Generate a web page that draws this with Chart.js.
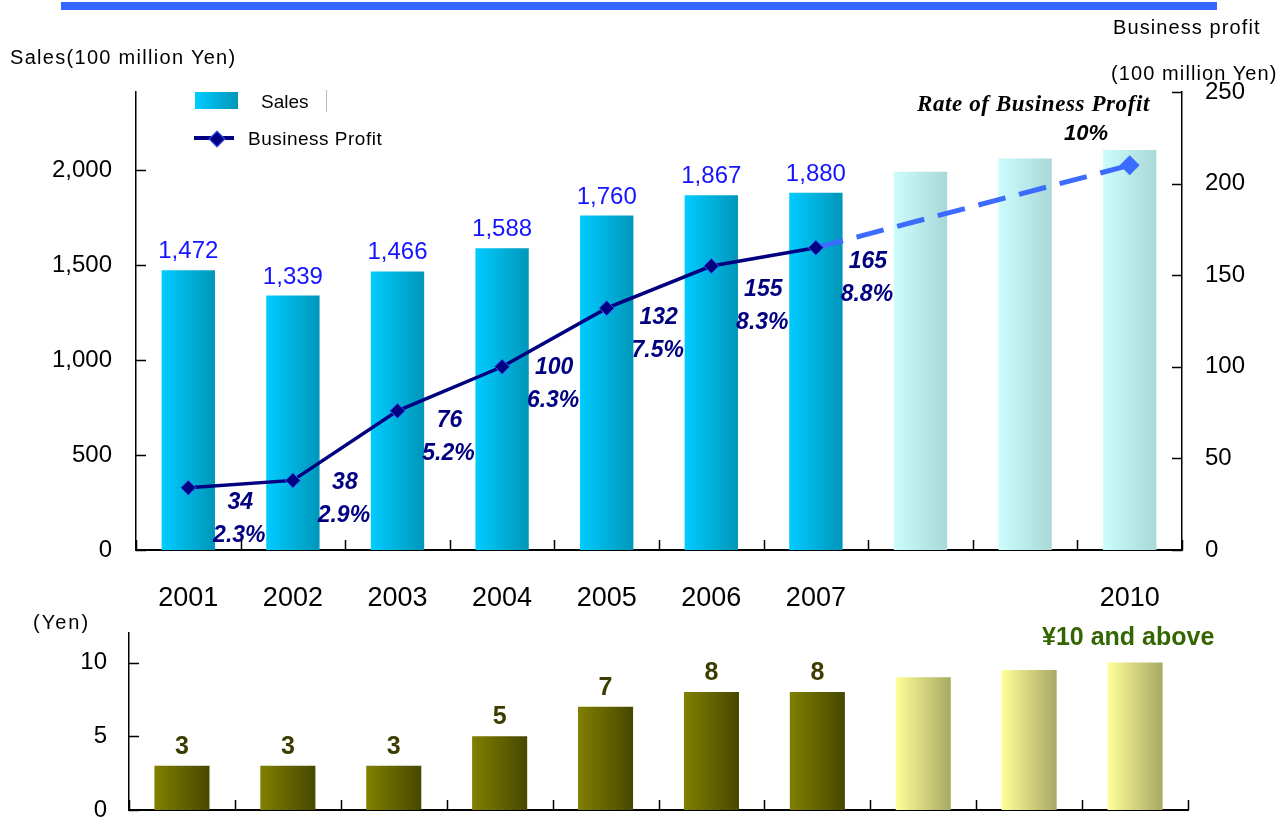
<!DOCTYPE html>
<html><head><meta charset="utf-8">
<script src="https://cdn.jsdelivr.net/npm/chart.js@4.4.1/dist/chart.umd.min.js"></script>
<style>
body{margin:0;width:1287px;height:821px;overflow:hidden;background:#fff;font-family:"Liberation Sans",Arial,sans-serif;position:relative}
.t{position:absolute;white-space:nowrap;color:#000;line-height:1}
canvas{position:absolute;left:0}
#c1{top:0}
#c2{top:590px}
</style></head><body>
<canvas id="c1" width="1287" height="610"></canvas>
<canvas id="c2" width="1287" height="260"></canvas>
<div style="position:absolute;left:61px;top:2px;width:1156px;height:8px;background:#3366ff"></div>
<div class="t" style="left:10px;top:47px;font-size:20px;letter-spacing:1.3px">Sales(100 million Yen)</div>
<div class="t" style="left:1113px;top:17px;font-size:20px;letter-spacing:1.1px">Business profit</div>
<div class="t" style="left:1111px;top:63px;font-size:20px;letter-spacing:1.1px">(100 million Yen)</div>
<div class="t" style="left:917px;top:92px;font-size:23px;letter-spacing:0.6px;font-weight:bold;font-style:italic;font-family:'Liberation Serif','Times New Roman',serif">Rate of Business Profit</div>
<div class="t" style="left:1064px;top:122px;font-size:22px;font-weight:bold;font-style:italic">10%</div>
<div class="t" style="left:1042px;top:624px;font-size:25px;font-weight:bold;color:#336600">¥10 and above</div>
<div class="t" style="left:33px;top:612px;font-size:20px;letter-spacing:2px">(Yen)</div>
<!-- legend -->
<div style="position:absolute;left:195px;top:92px;width:43px;height:17px;background:linear-gradient(to right,#00ccff,#0096b9)"></div>
<div class="t" style="left:261px;top:92px;font-size:19px">Sales</div>
<div style="position:absolute;left:326px;top:90px;width:1px;height:22px;background:#bbb"></div>
<div style="position:absolute;left:194px;top:136px;width:40px;height:4px;background:#000080"></div>
<div style="position:absolute;left:211px;top:133px;width:10px;height:10px;background:#000080;border:1px solid #3a5cff;transform:rotate(45deg)"></div>
<div class="t" style="left:248px;top:129px;font-size:19px;letter-spacing:0.5px">Business Profit</div>
<script>
const years = ['2001','2002','2003','2004','2005','2006','2007','2008','2009','2010'];
const yearTickLabels = ['2001','2002','2003','2004','2005','2006','2007','','','2010'];
const sales = [1472,1339,1466,1588,1760,1867,1880,1990,2060,2105];
const profit = [34,38,76,100,132,155,165,null,null,null];
const profitPlan = [null,null,null,null,null,null,165,null,null,210];
const profitRate = ['2.3%','2.9%','5.2%','6.3%','7.5%','8.3%','8.8%'];
const dividend = [3,3,3,5,7,8,8,9,9.5,10];
const salesTicks = [0,500,1000,1500,2000];
const profitTicks = [0,50,100,150,200,250];
const dividendTicks = [0,5,10];
const actualCount = 7;

function barGradient(cA, cB, pA, pB, frac){
  return function(ctx){
    const chart = ctx.chart, xs = chart.scales && chart.scales.x;
    if (ctx.type !== 'data' || !xs || !chart.chartArea) return cA;
    const i = ctx.dataIndex;
    const cx = xs.getPixelForValue(i);
    const w = xs.width / years.length * frac;
    const g = chart.ctx.createLinearGradient(cx - w/2, 0, cx + w/2, 0);
    const plan = i >= actualCount;
    g.addColorStop(0, plan ? pA : cA);
    g.addColorStop(1, plan ? pB : cB);
    return g;
  };
}

const tickMarks = {
  id: 'tickMarks',
  afterDraw(chart){
    const c = chart.ctx, a = chart.chartArea, n = years.length;
    c.save();
    c.strokeStyle = '#000'; c.lineWidth = 1.5;
    c.beginPath();
    for (let i = 0; i <= n; i++){
      const x = Math.round(a.left + i * (a.right - a.left) / n) + 0.5;
      c.moveTo(x, a.bottom); c.lineTo(x, a.bottom - 10);
    }
    const yl = chart.scales.y;
    yl.ticks.forEach(t => { const y = Math.round(yl.getPixelForValue(t.value)) + 0.5; c.moveTo(a.left, y); c.lineTo(a.left + 10, y); });
    const yr = chart.scales.y1;
    if (yr) yr.ticks.forEach(t => { const y = Math.round(yr.getPixelForValue(t.value)) + 0.5; c.moveTo(a.right, y); c.lineTo(a.right - 10, y); });
    c.stroke();
    c.restore();
  }
};

const topLabels = {
  id: 'topLabels',
  afterDatasetsDraw(chart){
    const c = chart.ctx;
    const barMeta = chart.getDatasetMeta(2);
    const lineMeta = chart.getDatasetMeta(0);
    const dy = [15,2,10,1,9,24,14];
    c.save();
    c.textAlign = 'center'; c.textBaseline = 'alphabetic';
    c.font = '24px "Liberation Sans", Arial, sans-serif';
    c.fillStyle = '#1414ff';
    for (let i = 0; i < actualCount; i++){
      const b = barMeta.data[i];
      c.fillText(sales[i].toLocaleString('en-US'), b.x, b.y - 12);
    }
    c.textBaseline = 'middle';
    c.font = 'italic bold 23px "Liberation Sans", Arial, sans-serif';
    c.fillStyle = '#000080';
    for (let i = 0; i < actualCount; i++){
      const p = lineMeta.data[i];
      c.fillText(String(profit[i]), p.x + 52, p.y + dy[i]);
      c.fillText(profitRate[i], p.x + 51, p.y + dy[i] + 33);
    }
    c.restore();
  }
};

new Chart(document.getElementById('c1'), {
  data: {
    labels: years,
    datasets: [
      { type:'line', label:'Business Profit', data: profit, yAxisID:'y1', order:0,
        borderColor:'#000080', borderWidth:3.5, pointStyle:'rectRot', pointRadius:7.5,
        pointBackgroundColor:'#000080', pointBorderColor:'#3a5cff', pointBorderWidth:1, tension:0, spanGaps:false },
      { type:'line', label:'Plan', data: profitPlan, yAxisID:'y1', order:1,
        borderColor:'#3b6bff', borderWidth:5, borderDash:[28,14], spanGaps:true, tension:0,
        pointStyle:'rectRot', pointRadius: ctx => ctx.dataIndex === years.length - 1 ? 10 : 0,
        pointBackgroundColor:'#3b6bff', pointBorderColor:'#3b6bff', pointBorderWidth:0 },
      { type:'bar', label:'Sales', data: sales, yAxisID:'y', order:2,
        backgroundColor: barGradient('#00ccff','#0096b9','#ccfcfc','#a8d8d8',0.51),
        barPercentage:0.51, categoryPercentage:1, borderWidth:0 }
    ]
  },
  options: {
    responsive:false, animation:false, events:[],
    layout:{ padding:{ top:92, left:0, right:0, bottom:0 } },
    plugins:{ legend:{display:false}, tooltip:{enabled:false} },
    scales:{
      x:{ type:'category', offset:true,
          grid:{ display:false, drawTicks:false },
          border:{ display:true, color:'#000', width:2 },
          ticks:{ autoSkip:false, maxRotation:0, padding:32, color:'#000',
                  font:{ size:27, family:'"Liberation Sans", Arial, sans-serif' },
                  callback:(v,i) => yearTickLabels[i] },
          afterFit: s => { s.height = 60; } },
      y:{ type:'linear', position:'left', min:0, max:2410,
          afterBuildTicks: s => { s.ticks = salesTicks.map(v => ({ value:v })); },
          grid:{ display:false, drawTicks:false },
          border:{ display:true, color:'#000', width:1.5 },
          ticks:{ padding:24, color:'#000', font:{ size:24, family:'"Liberation Sans", Arial, sans-serif' },
                  callback: v => Number(v).toLocaleString('en-US') },
          afterFit: s => { s.width = 136; } },
      y1:{ type:'linear', position:'right', min:0, max:250,
          afterBuildTicks: s => { s.ticks = profitTicks.map(v => ({ value:v })); },
          grid:{ display:false, drawTicks:false },
          border:{ display:true, color:'#000', width:1.5 },
          ticks:{ padding:23, color:'#000', font:{ size:24, family:'"Liberation Sans", Arial, sans-serif' } },
          afterFit: s => { s.width = 105; } }
    }
  },
  plugins:[tickMarks, topLabels]
});

const bottomLabels = {
  id:'bottomLabels',
  afterDatasetsDraw(chart){
    const c = chart.ctx, meta = chart.getDatasetMeta(0);
    c.save();
    c.textAlign = 'center'; c.textBaseline = 'alphabetic';
    c.font = 'bold 25px "Liberation Sans", Arial, sans-serif';
    c.fillStyle = '#3d3d00';
    for (let i = 0; i < actualCount; i++){
      const b = meta.data[i];
      c.fillText(String(dividend[i]), b.x, b.y - 12);
    }
    c.restore();
  }
};

new Chart(document.getElementById('c2'), {
  type:'bar',
  data:{ labels: years, datasets:[{ label:'Dividend', data: dividend,
    backgroundColor: barGradient('#808000','#474700','#ffff99','#a8a865',0.52),
    barPercentage:0.52, categoryPercentage:1, borderWidth:0 }] },
  options:{
    responsive:false, animation:false, events:[],
    layout:{ padding:{ top:43, left:0, right:99, bottom:0 } },
    plugins:{ legend:{display:false}, tooltip:{enabled:false} },
    scales:{
      x:{ grid:{ display:false, drawTicks:false }, border:{ display:true, color:'#000', width:2 },
          ticks:{ display:false }, afterFit: s => { s.height = 40; } },
      y:{ min:0, max:12,
          afterBuildTicks: s => { s.ticks = dividendTicks.map(v => ({ value:v })); },
          grid:{ display:false, drawTicks:false },
          border:{ display:true, color:'#000', width:1.5 },
          ticks:{ padding:22, color:'#000', font:{ size:24, family:'"Liberation Sans", Arial, sans-serif' } },
          afterFit: s => { s.width = 129; } }
    }
  },
  plugins:[tickMarks, bottomLabels]
});
</script>
</body></html>
